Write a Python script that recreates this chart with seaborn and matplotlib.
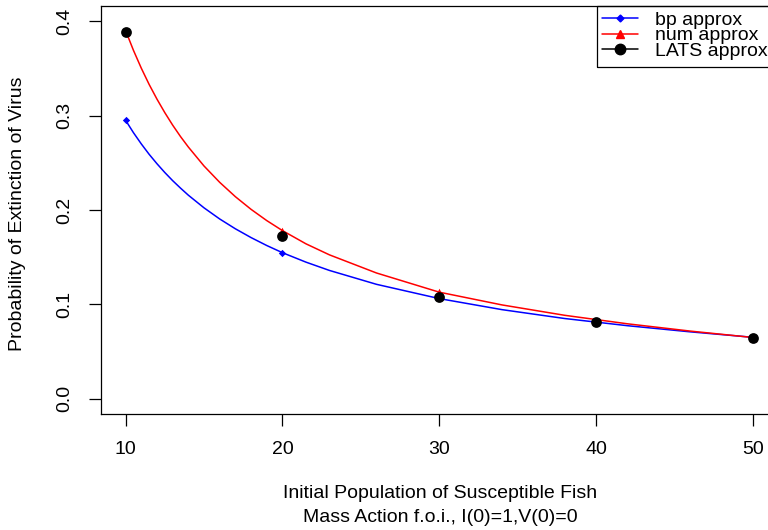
import numpy as np
import pandas as pd
import matplotlib
matplotlib.use("Agg")
import matplotlib.pyplot as plt
from matplotlib.lines import Line2D
from matplotlib.patches import Rectangle
import seaborn as sns

# --- data ---
# smooth curves (dense x grid)
curve_x = [10, 10.5, 11, 11.5, 12, 12.5, 13, 13.5, 14, 15, 16, 17, 18, 19, 20,
           21.5, 23, 26, 30, 34, 38, 42, 46, 50]
bp_curve = [0.2950, 0.2819, 0.2700, 0.2590, 0.2490, 0.2397, 0.2311, 0.2232,
            0.2157, 0.2023, 0.1905, 0.1801, 0.1708, 0.1624, 0.1548, 0.1448,
            0.1360, 0.1213, 0.1062, 0.0945, 0.0851, 0.0775, 0.0710, 0.0652]
num_curve = [0.3900, 0.3691, 0.3502, 0.3330, 0.3174, 0.3031, 0.2899, 0.2778,
             0.2667, 0.2466, 0.2293, 0.2141, 0.2007, 0.1888, 0.1782, 0.1642,
             0.1525, 0.1333, 0.1130, 0.0995, 0.0885, 0.0795, 0.0718, 0.0650]
# marked points
pts_x = [10, 20, 30, 40, 50]
bp_pts = [0.295, 0.155, 0.107, 0.080, 0.065]
num_pts = [0.390, 0.178, 0.113, 0.083, 0.065]
lats_pts = [0.389, 0.173, 0.108, 0.081, 0.065]

curves = pd.DataFrame({
    "x": curve_x * 2,
    "p": bp_curve + num_curve,
    "method": ["bp approx"] * len(curve_x) + ["num approx"] * len(curve_x),
})

sns.set_style("white")
plt.rcParams['font.family'] = ['Liberation Sans', 'DejaVu Sans']
plt.rcParams['font.size'] = 14
for key in ["text.color", "axes.labelcolor", "xtick.color", "ytick.color",
            "xtick.labelcolor", "ytick.labelcolor"]:
    plt.rcParams[key] = "black"

fig = plt.figure(figsize=(7.68, 5.30), dpi=100)
ax = fig.add_axes([100.5 / 768, 116 / 530, 677.5 / 768, 408 / 530])

sns.lineplot(data=curves, x="x", y="p", hue="method",
             palette={"bp approx": "blue", "num approx": "red"},
             linewidth=1.1, legend=False, ax=ax, sort=True)
sns.scatterplot(x=pts_x, y=bp_pts, color="blue", marker="D", s=14,
                linewidth=0, ax=ax, zorder=3)
sns.scatterplot(x=pts_x, y=num_pts, color="red", marker="^", s=30,
                linewidth=0, ax=ax, zorder=3)
sns.scatterplot(x=pts_x, y=lats_pts, color="black", marker="o", s=60,
                linewidth=0, ax=ax, zorder=4)

ax.set_xlim(8.4, 51.6)
ax.set_ylim(-0.016, 0.416)
ax.set_xticks([10, 20, 30, 40, 50])
ax.set_yticks([0.0, 0.1, 0.2, 0.3, 0.4])
ax.set_yticklabels(["0.0", "0.1", "0.2", "0.3", "0.4"])
ax.set_xlabel("")
ax.set_ylabel("")
for s in ax.spines.values():
    s.set_color("black")
    s.set_linewidth(0.9)
ax.tick_params(direction="out", length=8.6, width=0.9, color="black",
               labelcolor="black", pad=11, labelsize=14, bottom=True, left=True)
ax.tick_params(axis="y", labelrotation=90)
for lbl in ax.get_yticklabels():
    lbl.set_va("center")

fig.text(440 / 768, 1 - 494 / 530, "Initial Population of Susceptible Fish",
         ha="center", va="center", fontsize=14)
fig.text(440 / 768, 1 - 518 / 530, "Mass Action f.o.i., I(0)=1,V(0)=0",
         ha="center", va="center", fontsize=14)
fig.text(18 / 768, 1 - 214 / 530, "Probability of Extinction of Virus",
         ha="center", va="center", rotation=90, fontsize=14)

# legend, R style box anchored to the top right
handles = [
    Line2D([], [], color="blue", marker="D", markersize=3.5, linewidth=1.1),
    Line2D([], [], color="red", marker="^", markersize=6, linewidth=1.1),
    Line2D([], [], color="black", marker="o", markersize=7.5, linewidth=1.1),
]
leg = ax.legend(handles, ["bp approx", "num approx", "LATS approx"],
                loc="upper left", bbox_to_anchor=(602 / 768, 1 - 11.5 / 530),
                bbox_transform=fig.transFigure, frameon=False,
                borderpad=0, borderaxespad=0, handlelength=1.85,
                handletextpad=0.9, labelspacing=-0.12, fontsize=14)
fig.patches.append(Rectangle((597 / 768, 1 - 67 / 530), 190 / 768, 61 / 530,
                             transform=fig.transFigure, fill=False,
                             edgecolor="black", linewidth=0.9))

fig.savefig("out.png", dpi=100)
